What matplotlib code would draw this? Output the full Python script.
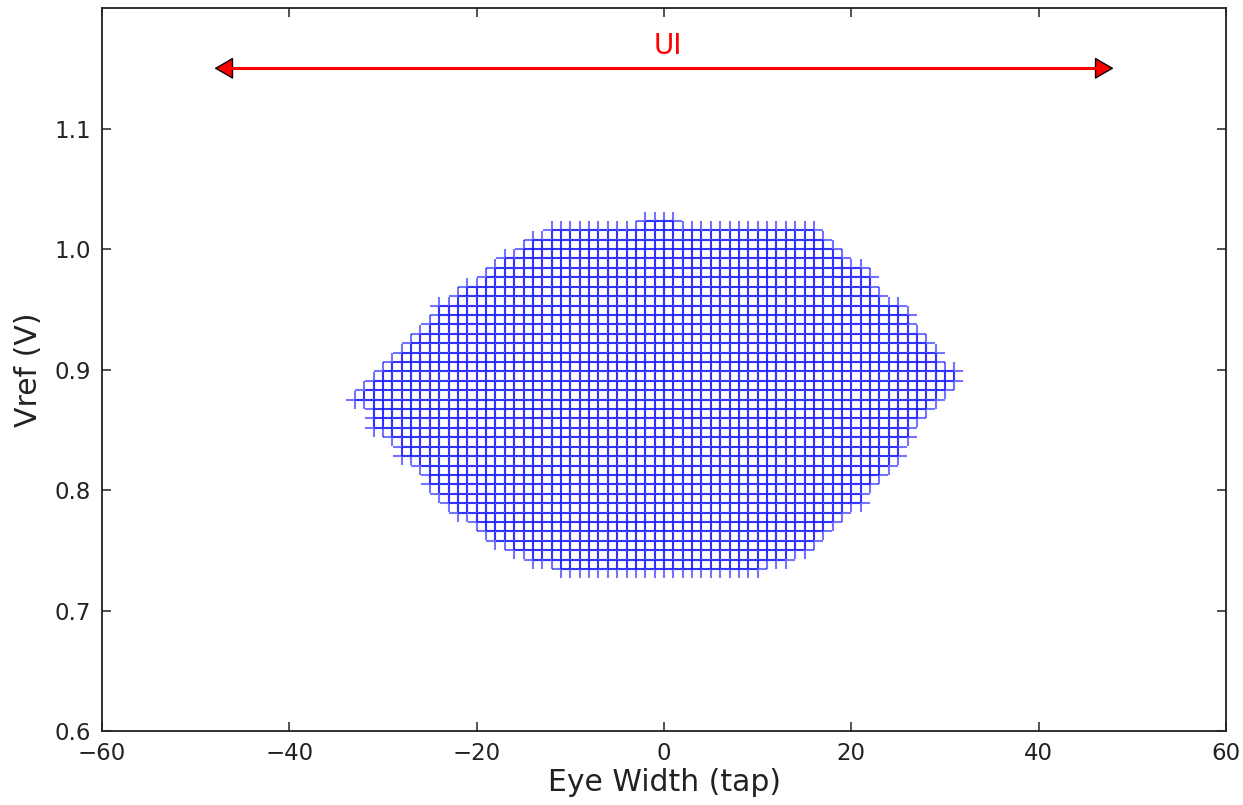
import matplotlib
matplotlib.use("Agg")
import matplotlib.pyplot as plt
import numpy as np

# Vref levels of each scanned row (V), bottom to top
vref_levels = [0.7344, 0.7422, 0.7500, 0.7578, 0.7656, 0.7734, 0.7813, 0.7891,
               0.7969, 0.8047, 0.8125, 0.8203, 0.8281, 0.8359, 0.8438, 0.8516,
               0.8594, 0.8672, 0.8750, 0.8828, 0.8906, 0.8984, 0.9063, 0.9141,
               0.9219, 0.9297, 0.9375, 0.9453, 0.9531, 0.9609, 0.9688, 0.9766,
               0.9844, 0.9922, 1.0000, 1.0078, 1.0156, 1.0234]
# leftmost / rightmost passing tap for each row
tap_min = [-11, -14, -16, -18, -19, -20, -22, -23, -24, -25, -25, -26, -28, -28,
           -29, -31, -31, -31, -33, -32, -31, -30, -29, -28, -27, -26, -25, -24,
           -24, -22, -21, -19, -18, -17, -15, -14, -12, -2]
tap_max = [10, 13, 15, 16, 17, 18, 19, 21, 21, 22, 23, 24, 25, 25,
           26, 26, 27, 28, 29, 30, 31, 31, 29, 29, 28, 27, 26, 26,
           25, 23, 22, 22, 21, 19, 18, 17, 16, 1]

ui_left, ui_right, ui_level = -48, 48, 1.15
ui_label = "UI"

x_ticks = [-60, -40, -20, 0, 20, 40, 60]
y_ticks = [0.6, 0.7, 0.8, 0.9, 1.0, 1.1]

pts_x, pts_y = [], []
for v, lo, hi in zip(vref_levels, tap_min, tap_max):
    for t in range(lo, hi + 1):
        pts_x.append(t)
        pts_y.append(v)

fig = plt.figure(figsize=(12.43, 8.05), dpi=100)
ax = fig.add_axes([0.0821, 0.0919, 0.9042, 0.8981])

ax.plot(pts_x, pts_y, linestyle='none', marker='+', markersize=13.5,
        markeredgewidth=1.5, color='blue', alpha=0.55)

# UI arrow
ax.annotate('', xy=(ui_left, ui_level), xytext=(ui_right, ui_level),
            arrowprops=dict(arrowstyle='<|-|>,head_length=0.6,head_width=0.35',
                            mutation_scale=20, fc='red', ec='black', lw=1,
                            shrinkA=0, shrinkB=0))
ax.plot([ui_left + 1.0, ui_right - 1.0], [ui_level, ui_level], color='red',
        lw=2.2, solid_capstyle='butt', zorder=5)
ax.text((ui_left + ui_right) / 2 + 0.4, ui_level + 0.007, ui_label, color='red',
        fontsize=20, ha='center', va='bottom')

ax.set_xlim(-60, 60)
ax.set_ylim(0.6, 1.2)
ax.set_xticks(x_ticks)
ax.set_yticks(y_ticks)
ax.set_yticklabels([f"{v:.1f}" for v in y_ticks])
ax.tick_params(direction='in', length=6.5, width=1.1, top=True, right=True,
               labelsize=16.5, pad=8, colors='#222222')
for s in ax.spines.values():
    s.set_linewidth(1.3)
    s.set_color('#222222')

ax.set_xlabel("Eye Width (tap)", fontsize=21.5, labelpad=2, color='#222222')
ax.set_ylabel("Vref (V)", fontsize=21.5, labelpad=8, color='#222222')

fig.savefig("out.png", dpi=100)
